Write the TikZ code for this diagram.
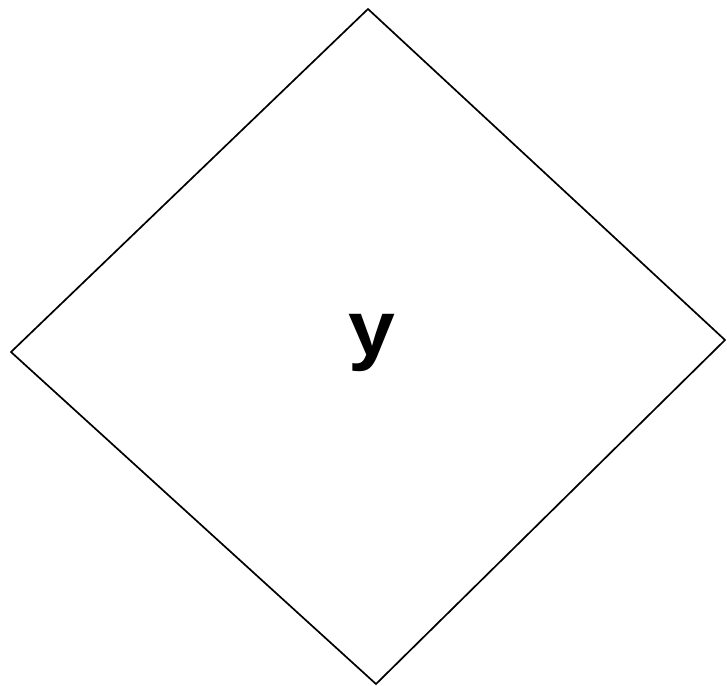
\documentclass[tikz,border=0pt]{standalone}
\usepackage{fontspec}
\setmainfont{Liberation Sans}
\begin{document}
\begin{tikzpicture}[x=1pt,y=-1pt,
  edge/.style={draw=black,line width=1.7pt,line join=miter},
  lbl/.style={inner sep=0pt,anchor=base,xscale=1.08,font=\fontsize{78}{80}\selectfont\bfseries}]
\useasboundingbox (0,0) rectangle (727,685);
\coordinate (T) at (368,9);
\coordinate (L) at (11,352);
\coordinate (B) at (376,684);
\coordinate (R) at (725,340);
\draw[edge] (T) -- (L) -- (B) -- (R) -- cycle;
\node[lbl] (y) at (371.5,355.5) {y};
\end{tikzpicture}
\end{document}
